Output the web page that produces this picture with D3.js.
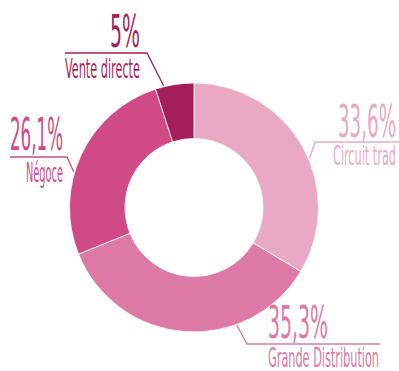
<!DOCTYPE html>
<html>
<head>
<meta charset="utf-8">
<script src="https://cdn.jsdelivr.net/npm/d3@7"></script>
<style>
  html, body { margin: 0; padding: 0; background: #fff; }
  svg { display: block; }
  text { font-family: "Liberation Sans Narrow", "DejaVu Sans Condensed", "Roboto", sans-serif; }
</style>
</head>
<body>
<script>
// Répartition des ventes par circuit de distribution
const categories = ["Circuit trad", "Grande Distribution", "Négoce", "Vente directe"];
const values = [33.6, 35.3, 26.1, 5];
const valueLabels = ["33,6%", "35,3%", "26,1%", "5%"];
const colors = ["#e9a9c5", "#dc79a4", "#d04a86", "#a51f5a"];

// Placement of each label block: percentage, rule, category name, leader angle (deg)
const labelLayout = [
  { px: 338, pw: 58, py: 137, ny: 165, nx: 333, nw: 63, ruleY: 142, ruleX0: 315, ruleX1: 399, elbowX: 315, angle: 67 },
  { px: 268, pw: 60, py: 338, ny: 367, nx: 268, nw: 111, ruleY: 344, ruleX0: 247, ruleX1: 380, elbowX: 247, angle: 160 },
  { px: 10, pw: 53, py: 150, ny: 182, nx: 26, nw: 37, ruleY: 157, ruleX0: 10, ruleX1: 67, elbowX: 67, angle: 286.5 },
  { px: 110, pw: 30, py: 47, ny: 78, nx: 65, nw: 75, ruleY: 53, ruleX0: 65, ruleX1: 147, elbowX: 147, angle: 346 }
];

const W = 399, H = 371;
const cx = 194, cy = 207.5, rOuter = 124.5, rInner = 69;

const svg = d3.select("body").append("svg")
  .attr("width", W).attr("height", H);

const pie = d3.pie().sort(null).value(d => d)(values);
const arc = d3.arc().innerRadius(rInner).outerRadius(rOuter);

const g = svg.append("g").attr("transform", `translate(${cx},${cy})`);
g.selectAll("path.slice").data(pie).join("path")
  .attr("class", "slice")
  .attr("d", arc)
  .attr("fill", (d, i) => colors[i])
  .attr("stroke", "#fff")
  .attr("stroke-width", 0.8);

// Labels with leader rules
const labels = svg.append("g");
pie.forEach((d, i) => {
  const L = labelLayout[i];
  const a = L.angle * Math.PI / 180;
  const ex = cx + Math.sin(a) * (rOuter + 1);
  const ey = cy - Math.cos(a) * (rOuter + 1);
  labels.append("polyline")
    .attr("points", L.elbowX === L.ruleX0
      ? `${ex},${ey} ${L.ruleX0},${L.ruleY} ${L.ruleX1},${L.ruleY}`
      : `${L.ruleX0},${L.ruleY} ${L.ruleX1},${L.ruleY} ${ex},${ey}`)
    .attr("fill", "none")
    .attr("stroke", colors[i])
    .attr("stroke-width", 1.3);
  labels.append("text")
    .attr("x", L.px).attr("y", L.py)
    .attr("font-size", 45)
    .attr("textLength", L.pw).attr("lengthAdjust", "spacingAndGlyphs")
    .attr("fill", colors[i])
    .text(valueLabels[i]);
  labels.append("text")
    .attr("x", L.nx).attr("y", L.ny)
    .attr("font-size", 27)
    .attr("textLength", L.nw).attr("lengthAdjust", "spacingAndGlyphs")
    .attr("fill", colors[i])
    .text(categories[i]);
});
</script>
</body>
</html>
